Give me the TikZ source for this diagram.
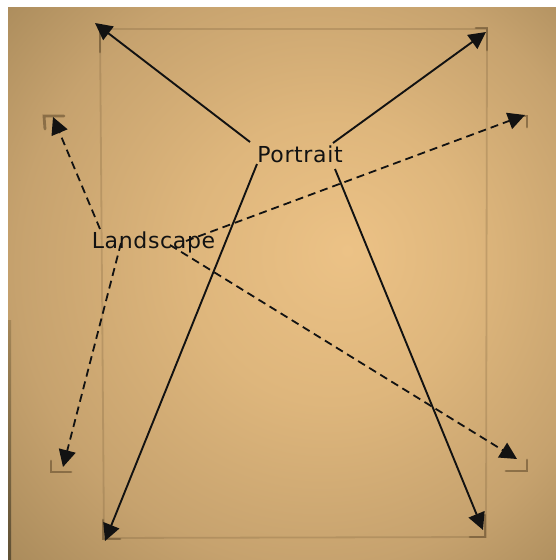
\documentclass[tikz,border=0pt]{standalone}
\usepackage{fontspec}
\newfontfamily\lblfont[LetterSpace=3]{DejaVu Sans}
\usetikzlibrary{arrows.meta}
\definecolor{bgA}{RGB}{236,194,134}
\definecolor{bgB}{RGB}{222,182,124}
\definecolor{bgC}{RGB}{198,162,110}
\definecolor{bgD}{RGB}{165,135,88}
\definecolor{bgE}{RGB}{132,108,70}
\definecolor{mark}{RGB}{115,90,55}
\definecolor{ink}{RGB}{18,18,18}
\pgfdeclareradialshading{paper}{\pgfpoint{6bp}{3bp}}{%
  color(0bp)=(bgA); color(13bp)=(bgB); color(27bp)=(bgC); color(39bp)=(bgD); color(50bp)=(bgE)}
\tikzset{
  lbl/.style={font=\lblfont\fontsize{22}{26}\selectfont, text=ink, inner sep=0pt, anchor=base},
  solidarrow/.style={draw=ink, line width=1.9pt, -{Triangle[length=17pt,width=17pt]}},
  dasharrow/.style={draw=ink, line width=1.8pt, dash pattern=on 8pt off 5pt, -{Triangle[length=17pt,width=17pt]}},
  pagemark/.style={draw=mark, line width=2.8pt, opacity=0.7, line cap=round},
  pageedge/.style={draw=mark, line width=1.8pt, opacity=0.25},
}
\begin{document}
\begin{tikzpicture}[x=1pt,y=-1pt]
\useasboundingbox (0,0) rectangle (556,560);
\fill[white] (0,0) rectangle (556,560);
\shade[shading=paper] (8,7) rectangle (556,560);
\shade[top color=bgD, bottom color={rgb,255:red,95;green,80;blue,52}] (8,320) rectangle (11,560);
% portrait page outline
\draw[pageedge] (100,29) -- (487,29) -- (486,537) -- (104,538) -- cycle;
% portrait corner marks
\draw[pagemark] (100,30) -- (100,52);
\draw[pagemark] (476,28) -- (487,28) -- (487,50);
\draw[pagemark] (485,515) -- (485,537) -- (470,537);
\draw[pagemark] (103,520) -- (103,539) -- (120,539);
% landscape corner marks
\draw[pagemark] (45,129) -- (44,116) -- (64,116);
\draw[pagemark] (510,116) -- (527,116) -- (527,127);
\draw[pagemark] (51,461) -- (51,472) -- (71,472);
\draw[pagemark] (506,471) -- (527,471) -- (527,460);
% labels
\node[lbl] (portrait) at (300,162) {Portrait};
\node[lbl] (landscape) at (153.5,248) {Landscape};
% tips
\coordinate (pUL) at (95,23);
\coordinate (pUR) at (486,32);
\coordinate (pLL) at (105,541);
\coordinate (pLR) at (483,530);
\coordinate (lUL) at (53,117);
\coordinate (lUR) at (525,115);
\coordinate (lLL) at (63,467);
\coordinate (lLR) at (517,459);
% portrait arrows
\draw[solidarrow] ([shift={(-50,-20)}]portrait.base) -- (pUL);
\draw[solidarrow] ([shift={(33,-19)}]portrait.base) -- (pUR);
\draw[solidarrow] ([shift={(-43,2)}]portrait.base) -- (pLL);
\draw[solidarrow] ([shift={(35,7)}]portrait.base) -- (pLR);
% landscape arrows
\draw[dasharrow] ([shift={(-53.5,-19)}]landscape.base) -- (lUL);
\draw[dasharrow] ([shift={(32.5,-7)}]landscape.base) -- (lUR);
\draw[dasharrow] ([shift={(-32.5,-5)}]landscape.base) -- (lLL);
\draw[dasharrow] ([shift={(16.5,-3)}]landscape.base) -- (lLR);
\end{tikzpicture}
\end{document}
